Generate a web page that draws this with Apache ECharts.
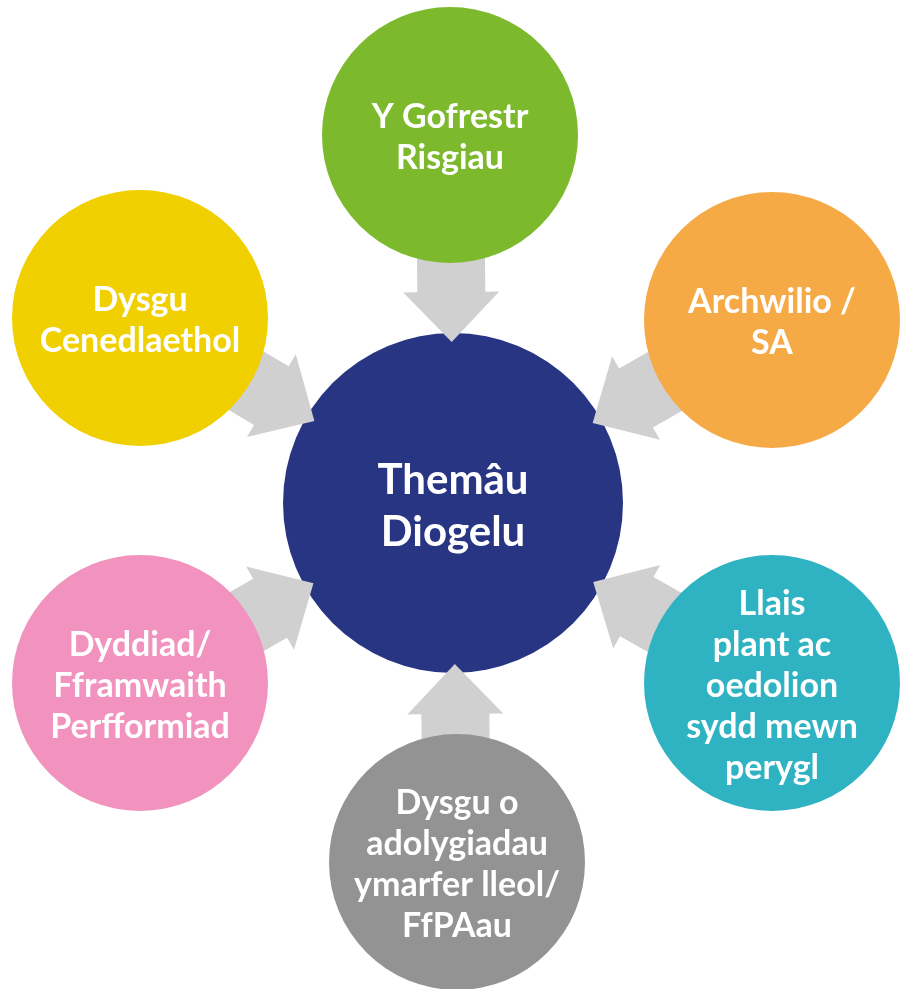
<!DOCTYPE html>
<html>
<head>
<meta charset="utf-8">
<script src="https://cdn.jsdelivr.net/npm/echarts@6/dist/echarts.min.js"></script>
<style>
  html, body { margin: 0; padding: 0; background: #fff; }
  #main { width: 906px; height: 989px; }
</style>
</head>
<body>
<div id="main"></div>
<script>
// hub of the diagram
var hubLabel = 'Themâu\nDiogelu';
var hubPos = [453, 503];

// outer themes, clockwise from the top
var nodeLabels = [
    'Y Gofrestr\nRisgiau',
    'Archwilio /\nSA',
    'Llais\nplant ac\noedolion\nsydd mewn\nperygl',
    'Dysgu o\nadolygiadau\nymarfer lleol/\nFfPAau',
    'Dyddiad/\nFframwaith\nPerfformiad',
    'Dysgu\nCenedlaethol'
];
var nodeX = [450, 772, 772, 457, 140, 140];
var nodeY = [135, 320, 683, 862, 683, 318];

var nodeColors = ['#7cb92c', '#f6aa45', '#2fb3c3', '#939393', '#f193be', '#f0d000'];
var hubColor = '#283583';
var arrowColor = '#d0d0d0';
var FONT = 'Lato, "Noto Sans", sans-serif';

var nodeData = nodeLabels.map(function (t, i) {
    return { value: [nodeX[i], nodeY[i]], name: t };
});

var chart = echarts.init(document.getElementById('main'));

// block arrow from an outer node to the hub, built in a local (along, across) frame
function renderArrow(params, api) {
    var p = api.coord([api.value(0), api.value(1)]);
    var c = api.coord(hubPos);
    var dx = p[0] - c[0], dy = p[1] - c[1];
    var len = Math.sqrt(dx * dx + dy * dy);
    var ux = dx / len, uy = dy / len;   // from hub outwards
    var nx = -uy, ny = ux;
    var unit = api.size([1, 1])[0];
    function pt(d, w) {
        return [c[0] + ux * d * unit + nx * w * unit, c[1] + uy * d * unit + ny * w * unit];
    }
    var tip = 161, head = 211, end = 300, hw = 48, sw = 34;
    return {
        type: 'polygon',
        shape: { points: [pt(tip, 0), pt(head, hw), pt(head, sw), pt(end, sw), pt(end, -sw), pt(head, -sw), pt(head, -hw)] },
        style: { fill: arrowColor }
    };
}

function renderBubble(r, color, fontSize, lineHeight) {
    return function (params, api) {
        var p = api.coord([api.value(0), api.value(1)]);
        var rad = api.size([r, r])[0];
        var idx = params.dataIndex;
        var fill = typeof color === 'function' ? color(idx) : color;
        var label = params.seriesName === 'hub' ? hubLabel : nodeLabels[idx];
        return {
            type: 'group',
            children: [{
                type: 'circle',
                shape: { cx: p[0], cy: p[1], r: rad },
                style: { fill: fill }
            }, {
                type: 'text',
                style: {
                    text: label,
                    x: p[0],
                    y: p[1] + 3,
                    align: 'center',
                    verticalAlign: 'middle',
                    fill: '#fff',
                    fontFamily: FONT,
                    fontWeight: 'bold',
                    fontSize: fontSize,
                    lineHeight: lineHeight
                }
            }]
        };
    };
}

var option = {
    animation: false,
    grid: { left: 0, right: 0, top: 0, bottom: 0 },
    xAxis: { type: 'value', min: 0, max: 906, show: false },
    yAxis: { type: 'value', min: 0, max: 989, inverse: true, show: false },
    series: [
        {
            name: 'hub',
            type: 'custom',
            z: 1,
            data: [hubPos],
            renderItem: renderBubble(170, hubColor, 42, 52)
        },
        {
            name: 'arrows',
            type: 'custom',
            z: 2,
            data: nodeData,
            renderItem: renderArrow
        },
        {
            name: 'nodes',
            type: 'custom',
            z: 3,
            data: nodeData,
            renderItem: renderBubble(128, function (i) { return nodeColors[i]; }, 34, 41)
        }
    ]
};

chart.setOption(option);
</script>
</body>
</html>
